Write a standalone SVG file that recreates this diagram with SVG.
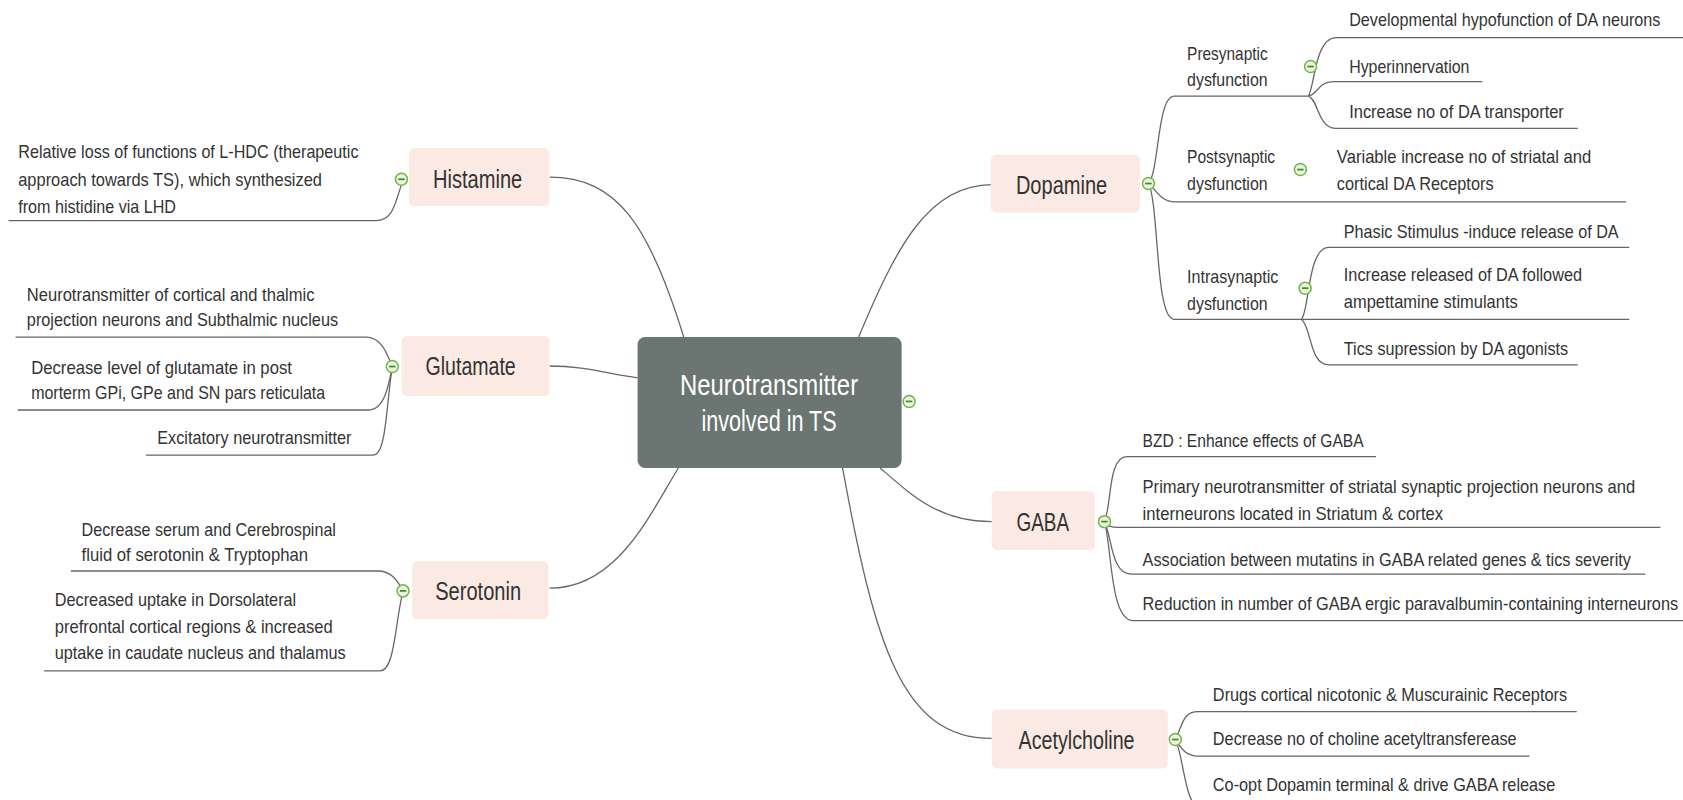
<svg xmlns="http://www.w3.org/2000/svg" xmlns:xlink="http://www.w3.org/1999/xlink" width="1683" height="800" viewBox="0 0 1683 800">
<style>
.t{font-family:"Liberation Sans",Arial,sans-serif;font-size:17.5px;fill:#333;dominant-baseline:central}
.n{font-size:23.5px;text-anchor:middle}
.c{font-size:28px;fill:#fff;text-anchor:middle}
.box{fill:#fbe9e3}
.ln{fill:none;stroke:#666;stroke-width:1.2}
</style>
<defs>
<g id="tog"><circle r="5.6" fill="#e9f5e0" stroke="#72b646" stroke-width="1.4"/><line x1="-3" y1="0" x2="3" y2="0" stroke="#3f8a2a" stroke-width="1.6"/></g>
</defs>
<rect width="1683" height="800" fill="#fff"/>
<g transform="scale(1.07334)">
<g id="connectors">
<path class="ln" d="M512,165 C575,165 605,210 637,314"/>
<path class="ln" d="M512,341 C545,341 565,348 594,352"/>
<path class="ln" d="M512,548 C575,548 605,480 632,436"/>
<path class="ln" d="M924,172 C865,172 835,230 800,314"/>
<path class="ln" d="M924,486 C875,486 850,462 820,436"/>
<path class="ln" d="M924,688 C840,688 815,600 785,436"/>
<path class="ln" d="M374,172 C368,190 366,205.5 350,205.5 L8,205.5"/>
<path class="ln" d="M365.5,341.5 C360,328 355,314 341,314 L14.5,314"/>
<path class="ln" d="M365.5,341.5 C362,360 358,382 343,382 L16.5,382"/>
<path class="ln" d="M365.5,341.5 C360,375 360,424 348,424 L136,424"/>
<path class="ln" d="M375.5,550.5 C370,540 364,532 352,532 L66,532"/>
<path class="ln" d="M375.5,550.5 C368,580 368,625 354,625 L41,625"/>
<path class="ln" d="M1070,171 C1080,160 1078,89.5 1094,89.5 L1219,89.5"/>
<path class="ln" d="M1070,171 C1078,178 1082,188 1094,188 L1515,188"/>
<path class="ln" d="M1070,171 C1080,190 1076,297.5 1094,297.5 L1518,297.5"/>
<path class="ln" d="M1219,89.5 C1225,80 1225,35 1245,35 L1568,35"/>
<path class="ln" d="M1219,89.5 C1228,88 1228,76 1242,76 L1381,76"/>
<path class="ln" d="M1219,89.5 C1228,92 1228,119.6 1244,119.6 L1470,119.6"/>
<path class="ln" d="M1212.5,297.5 C1220,290 1218,230.4 1238,230.4 L1518,230.4"/>
<path class="ln" d="M1212.5,297.5 C1222,305 1220,340 1238,340 L1470,340"/>
<path class="ln" d="M1029,486 C1036,470 1032,425.5 1050,425.5 L1282,425.5"/>
<path class="ln" d="M1029,486 C1032,490 1035,491.3 1042,491.3 L1547,491.3"/>
<path class="ln" d="M1029,486 C1036,500 1035,534.8 1054,534.8 L1533,534.8"/>
<path class="ln" d="M1029,486 C1036,510 1034,578.3 1056,578.3 L1568,578.3"/>
<path class="ln" d="M1095,689 C1102,675 1102,663 1116,663 L1469,663"/>
<path class="ln" d="M1095,689 C1100,696 1104,704.4 1116,704.4 L1425,704.4"/>
<path class="ln" d="M1095,689 C1103,705 1104,752 1118,752"/>
</g>
<g id="center">
<rect x="594" y="314" width="246" height="122" rx="7" fill="#6b7572"/>
<text class="t c" x="716.5" y="358" textLength="166" lengthAdjust="spacingAndGlyphs">Neurotransmitter</text>
<text class="t c" x="716.5" y="392" textLength="126" lengthAdjust="spacingAndGlyphs">involved in TS</text>
<use xlink:href="#tog" x="847" y="374"/>
</g>
<g id="histamine">
<rect class="box" x="381" y="138" width="131" height="54" rx="5"/>
<text class="t n" x="445" y="167" textLength="83" lengthAdjust="spacingAndGlyphs">Histamine</text>
<use xlink:href="#tog" x="374" y="167"/>
</g>
<g id="histamine-1">
<text class="t" x="17" y="141" textLength="317" lengthAdjust="spacingAndGlyphs">Relative loss of functions of L-HDC (therapeutic</text>
<text class="t" x="17" y="167" textLength="283" lengthAdjust="spacingAndGlyphs">approach towards TS), which synthesized</text>
<text class="t" x="17" y="192" textLength="147" lengthAdjust="spacingAndGlyphs">from histidine via LHD</text>
</g>
<g id="glutamate">
<rect class="box" x="374" y="313" width="138" height="56" rx="5"/>
<text class="t n" x="438.5" y="341" textLength="84" lengthAdjust="spacingAndGlyphs">Glutamate</text>
<use xlink:href="#tog" x="365.5" y="341.5"/>
</g>
<g id="glutamate-1">
<text class="t" x="25" y="274" textLength="268" lengthAdjust="spacingAndGlyphs">Neurotransmitter of cortical and thalmic</text>
<text class="t" x="25" y="298" textLength="290" lengthAdjust="spacingAndGlyphs">projection neurons and Subthalmic nucleus</text>
</g>
<g id="glutamate-2">
<text class="t" x="29" y="342" textLength="243" lengthAdjust="spacingAndGlyphs">Decrease level of glutamate in post</text>
<text class="t" x="29" y="366" textLength="274" lengthAdjust="spacingAndGlyphs">morterm GPi, GPe and SN pars reticulata</text>
</g>
<g id="glutamate-3">
<text class="t" x="146.5" y="408" textLength="181" lengthAdjust="spacingAndGlyphs">Excitatory neurotransmitter</text>
</g>
<g id="serotonin">
<rect class="box" x="384" y="523" width="127" height="54" rx="5"/>
<text class="t n" x="445.5" y="551" textLength="80" lengthAdjust="spacingAndGlyphs">Serotonin</text>
<use xlink:href="#tog" x="375.5" y="550.5"/>
</g>
<g id="serotonin-1">
<text class="t" x="76" y="493" textLength="237" lengthAdjust="spacingAndGlyphs">Decrease serum and Cerebrospinal</text>
<text class="t" x="76" y="517" textLength="211" lengthAdjust="spacingAndGlyphs">fluid of serotonin &amp; Tryptophan</text>
</g>
<g id="serotonin-2">
<text class="t" x="51" y="559" textLength="225" lengthAdjust="spacingAndGlyphs">Decreased uptake in Dorsolateral</text>
<text class="t" x="51" y="584" textLength="259" lengthAdjust="spacingAndGlyphs">prefrontal cortical regions &amp; increased</text>
<text class="t" x="51" y="608" textLength="271" lengthAdjust="spacingAndGlyphs">uptake in caudate nucleus and thalamus</text>
</g>
<g id="dopamine">
<rect class="box" x="923" y="144" width="139" height="54" rx="5"/>
<text class="t n" x="989" y="172" textLength="85" lengthAdjust="spacingAndGlyphs">Dopamine</text>
<use xlink:href="#tog" x="1070" y="171"/>
</g>
<g id="presynaptic">
<text class="t" x="1106" y="50" textLength="75" lengthAdjust="spacingAndGlyphs">Presynaptic</text>
<text class="t" x="1106" y="74.5" textLength="75" lengthAdjust="spacingAndGlyphs">dysfunction</text>
<use xlink:href="#tog" x="1221" y="62"/>
</g>
<g id="pre-1"><text class="t" transform="translate(1257,18.6) scale(1,1.1)" style="font-size:15.8px" textLength="290" lengthAdjust="spacingAndGlyphs">Developmental hypofunction of DA neurons</text></g>
<g id="pre-2"><text class="t" x="1257" y="62" textLength="112" lengthAdjust="spacingAndGlyphs">Hyperinnervation</text></g>
<g id="pre-3"><text class="t" x="1257" y="104" textLength="200" lengthAdjust="spacingAndGlyphs">Increase no of DA transporter</text></g>
<g id="postsynaptic">
<text class="t" x="1106" y="146" textLength="82" lengthAdjust="spacingAndGlyphs">Postsynaptic</text>
<text class="t" x="1106" y="171" textLength="75" lengthAdjust="spacingAndGlyphs">dysfunction</text>
<use xlink:href="#tog" x="1211.5" y="158"/>
</g>
<g id="post-1">
<text class="t" x="1245.5" y="146" textLength="237" lengthAdjust="spacingAndGlyphs">Variable increase no of striatal and</text>
<text class="t" x="1245.5" y="171" textLength="146" lengthAdjust="spacingAndGlyphs">cortical DA Receptors</text>
</g>
<g id="intrasynaptic">
<text class="t" x="1106" y="258" textLength="85" lengthAdjust="spacingAndGlyphs">Intrasynaptic</text>
<text class="t" x="1106" y="282.5" textLength="75" lengthAdjust="spacingAndGlyphs">dysfunction</text>
<use xlink:href="#tog" x="1216" y="268.5"/>
</g>
<g id="intra-1"><text class="t" x="1252" y="216" textLength="256" lengthAdjust="spacingAndGlyphs">Phasic Stimulus -induce release of DA</text></g>
<g id="intra-2">
<text class="t" x="1252" y="256" textLength="222" lengthAdjust="spacingAndGlyphs">Increase released of DA followed</text>
<text class="t" x="1252" y="281" textLength="162" lengthAdjust="spacingAndGlyphs">ampettamine stimulants</text>
</g>
<g id="intra-3"><text class="t" x="1252" y="324.5" textLength="209" lengthAdjust="spacingAndGlyphs">Tics supression by DA agonists</text></g>
<g id="gaba">
<rect class="box" x="924" y="457.5" width="96" height="55" rx="5"/>
<text class="t n" x="971.5" y="486" textLength="49" lengthAdjust="spacingAndGlyphs">GABA</text>
<use xlink:href="#tog" x="1029" y="486"/>
</g>
<g id="gaba-1"><text class="t" x="1064.5" y="410" textLength="206" lengthAdjust="spacingAndGlyphs">BZD : Enhance effects of GABA</text></g>
<g id="gaba-2">
<text class="t" transform="translate(1064.5,453.5) scale(1,1.094)" style="font-size:16px" textLength="459" lengthAdjust="spacingAndGlyphs">Primary neurotransmitter of striatal synaptic projection neurons and</text>
<text class="t" x="1064.5" y="478" textLength="280" lengthAdjust="spacingAndGlyphs">interneurons located in Striatum &amp; cortex</text>
</g>
<g id="gaba-3"><text class="t" transform="translate(1064.5,521.5) scale(1,1.094)" style="font-size:16px" textLength="455" lengthAdjust="spacingAndGlyphs">Association between mutatins in GABA related genes &amp; tics severity</text></g>
<g id="gaba-4"><text class="t" transform="translate(1064.5,562) scale(1,1.15)" style="font-size:15.2px" textLength="499" lengthAdjust="spacingAndGlyphs">Reduction in number of GABA ergic paravalbumin-containing interneurons</text></g>
<g id="acetylcholine">
<rect class="box" x="924" y="661" width="164" height="55" rx="5"/>
<text class="t n" x="1003" y="689" textLength="108" lengthAdjust="spacingAndGlyphs">Acetylcholine</text>
<use xlink:href="#tog" x="1095" y="689"/>
</g>
<g id="ach-1"><text class="t" x="1130" y="647.5" textLength="330" lengthAdjust="spacingAndGlyphs">Drugs cortical nicotonic &amp; Muscurainic Receptors</text></g>
<g id="ach-2"><text class="t" x="1130" y="688" textLength="283" lengthAdjust="spacingAndGlyphs">Decrease no of choline acetyltransferease</text></g>
<g id="ach-3"><text class="t" x="1130" y="731" textLength="319" lengthAdjust="spacingAndGlyphs">Co-opt Dopamin terminal &amp; drive GABA release</text></g>
</g>
</svg>
